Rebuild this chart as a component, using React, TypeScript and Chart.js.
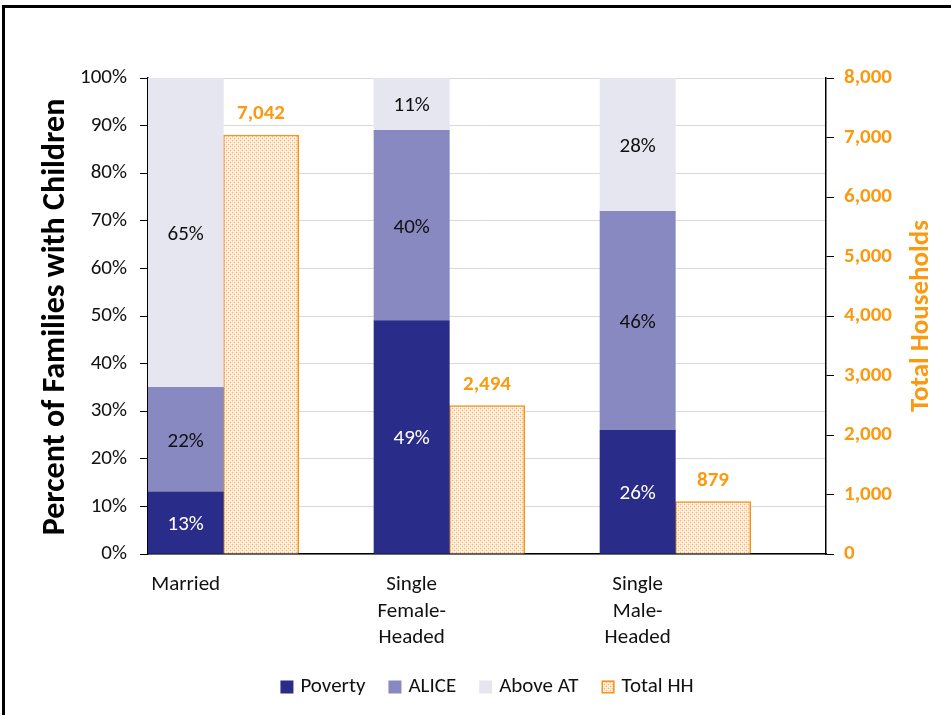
import React, { useEffect, useRef } from "react";
import { Chart, registerables } from "chart.js";

Chart.register(...registerables);

const categories: string[][] = [["Married"], ["Single", "Female-", "Headed"], ["Single", "Male-", "Headed"]];
const poverty = [13, 49, 26];
const alice = [22, 40, 46];
const aboveAT = [65, 11, 28];
const totalHH = [7042, 2494, 879];
const seriesNames = ["Poverty", "ALICE", "Above AT", "Total HH"];

const FONT = "Carlito, Lato, 'Open Sans', sans-serif";
const FS = 21;
const C_POV = "#2a2c8a";
const C_ALICE = "#8789c0";
const C_ABOVE = "#e6e6f0";
const C_ORANGE = "#f7941d";
const C_ORANGE_TXT = "#fb9a10";

function makePattern(): CanvasPattern | string {
  const c = document.createElement("canvas");
  c.width = 4;
  c.height = 4;
  const g = c.getContext("2d");
  if (!g) return "#fcd7a8";
  g.fillStyle = "#fde4c6";
  g.fillRect(0, 0, 4, 4);
  g.fillStyle = "#ffffff";
  g.fillRect(1, 1, 1, 1);
  g.fillRect(3, 3, 1, 1);
  g.fillRect(1, 3, 1, 1);
  g.fillRect(3, 1, 1, 1);
  g.fillStyle = "#f9b469";
  g.fillRect(0, 0, 1, 1);
  g.fillRect(2, 2, 1, 1);
  const p = g.createPattern(c, "repeat");
  return p || "#fcd7a8";
}

export default function App() {
  const ref = useRef<HTMLCanvasElement | null>(null);

  useEffect(() => {
    document.body.style.margin = "0";
    const canvas = ref.current;
    if (!canvas) return;
    const pattern = makePattern();

    const labelPlugin = {
      id: "labels",
      afterDatasetsDraw(chart: any) {
        const ctx = chart.ctx;
        ctx.save();
        ctx.textAlign = "center";
        ctx.textBaseline = "middle";
        for (let d = 0; d < 3; d++) {
          const meta = chart.getDatasetMeta(d);
          const vals = chart.data.datasets[d].data;
          meta.data.forEach((el: any, i: number) => {
            const v = vals[i];
            if (v == null) return;
            ctx.font = `${FS}px ${FONT}`;
            ctx.fillStyle = d === 0 ? "#ffffff" : "#111111";
            ctx.fillText(v + "%", el.x, (el.y + el.base) / 2 + 2);
          });
        }
        const meta = chart.getDatasetMeta(3);
        meta.data.forEach((el: any, i: number) => {
          const v = totalHH[i];
          ctx.font = `bold ${FS}px ${FONT}`;
          ctx.fillStyle = C_ORANGE_TXT;
          ctx.fillText(v.toLocaleString("en-US"), el.x, el.y - 21);
        });
        ctx.restore();
      },
      afterDraw(chart: any) {
        const ctx = chart.ctx;
        ctx.save();
        ctx.textAlign = "center";
        ctx.textBaseline = "middle";
        ctx.save();
        ctx.translate(56, 317);
        ctx.rotate(-Math.PI / 2);
        ctx.font = `bold 32px ${FONT}`;
        ctx.fillStyle = "#000";
        ctx.fillText("Percent of Families with Children", 0, 0);
        ctx.restore();
        ctx.save();
        ctx.translate(921, 316);
        ctx.rotate(-Math.PI / 2);
        ctx.font = `bold 27px ${FONT}`;
        ctx.fillStyle = C_ORANGE_TXT;
        ctx.fillText("Total Households", 0, 0);
        ctx.restore();
        // legend
        ctx.font = `${FS}px ${FONT}`;
        ctx.textBaseline = "middle";
        const fills: any[] = [C_POV, C_ALICE, C_ABOVE, pattern];
        const box = 13;
        const gapText = 7;
        const gapItem = 23;
        const widths = seriesNames.map((n) => box + gapText + ctx.measureText(n).width);
        const total = widths.reduce((a, b) => a + b, 0) + gapItem * (widths.length - 1);
        let x = 487 - total / 2;
        const y = 687;
        seriesNames.forEach((n, i) => {
          ctx.fillStyle = fills[i];
          ctx.fillRect(x, y - box / 2, box, box);
          if (i === 3) {
            ctx.strokeStyle = C_ORANGE;
            ctx.lineWidth = 1.5;
            ctx.strokeRect(x + 0.75, y - box / 2 + 0.75, box - 1.5, box - 1.5);
          }
          ctx.fillStyle = "#111";
          ctx.textAlign = "left";
          ctx.fillText(n, x + box + gapText, y);
          x += widths[i] + gapItem;
        });
        ctx.restore();
      },
    };

    const chart = new Chart(canvas, {
      type: "bar",
      data: {
        labels: categories as any,
        datasets: [
          { label: seriesNames[0], data: poverty, backgroundColor: C_POV, stack: "pct", yAxisID: "y" },
          { label: seriesNames[1], data: alice, backgroundColor: C_ALICE, stack: "pct", yAxisID: "y" },
          { label: seriesNames[2], data: aboveAT, backgroundColor: C_ABOVE, stack: "pct", yAxisID: "y" },
          {
            label: seriesNames[3],
            data: totalHH,
            backgroundColor: pattern as any,
            borderColor: C_ORANGE,
            borderWidth: 1.5,
            stack: "hh",
            yAxisID: "y2",
          },
          { label: "pad", data: [null, null, null], stack: "pad", yAxisID: "y" },
        ],
      },
      plugins: [labelPlugin],
      options: {
        animation: false,
        responsive: true,
        maintainAspectRatio: false,
        layout: { padding: { top: 78, left: 0, right: 0, bottom: 0 } },
        datasets: { bar: { categoryPercentage: 1, barPercentage: 1 } },
        plugins: { legend: { display: false }, tooltip: { enabled: false } },
        scales: {
          x: {
            stacked: true,
            grid: { display: false, drawTicks: false },
            border: { display: true, color: "#000", width: 1.5 },
            ticks: {
              labelOffset: -226 / 3,
              padding: 18,
              color: "#111",
              font: { family: FONT, size: FS, lineHeight: 1.26 },
              maxRotation: 0,
              autoSkip: false,
            },
            afterFit: (s: any) => {
              s.height = 161;
            },
          },
          y: {
            stacked: true,
            min: 0,
            max: 100,
            grid: { color: "#d9d9d9", tickColor: "#000", tickLength: 8, lineWidth: 1 },
            border: { display: true, color: "#000", width: 1.5 },
            ticks: {
              stepSize: 10,
              padding: 13,
              color: "#111",
              font: { family: FONT, size: FS },
              callback: (v: any) => v + "%",
            },
            afterFit: (s: any) => {
              s.width = 148;
            },
          },
          y2: {
            position: "right",
            stacked: true,
            min: 0,
            max: 8000,
            grid: { drawOnChartArea: false, tickColor: "#000", tickLength: 8 },
            border: { display: true, color: "#000", width: 1.5 },
            ticks: {
              stepSize: 1000,
              padding: 10,
              color: C_ORANGE_TXT,
              font: { family: FONT, size: FS, weight: "bold" },
              callback: (v: any) => Number(v).toLocaleString("en-US"),
            },
            afterFit: (s: any) => {
              s.width = 125;
            },
          },
        },
      } as any,
    });
    return () => chart.destroy();
  }, []);

  return (
    <div style={{ position: "fixed", left: 0, top: 0, width: 951, height: 715, overflow: "hidden", background: "#fff" }}>
      <div
        style={{
          position: "absolute",
          left: 2,
          top: 5,
          width: 1100,
          height: 900,
          borderTop: "3px solid #000",
          borderLeft: "3px solid #000",
          boxSizing: "border-box",
        }}
      />
      <div style={{ position: "absolute", left: 0, top: 0, width: 951, height: 715 }}>
        <canvas ref={ref} />
      </div>
    </div>
  );
}
